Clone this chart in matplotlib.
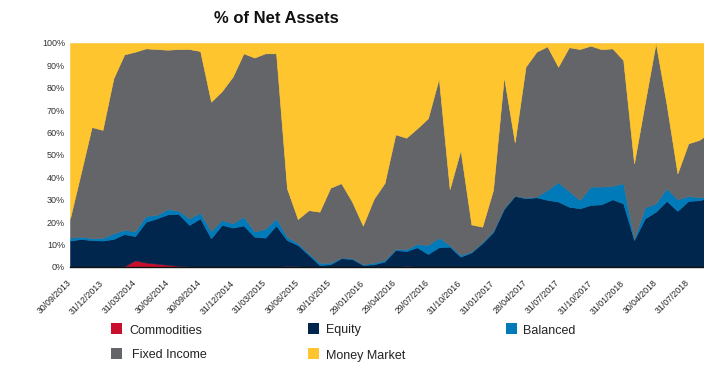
import matplotlib
matplotlib.use("Agg")
import matplotlib.pyplot as plt
from matplotlib.patches import Rectangle
import matplotlib.transforms as mtransforms
import numpy as np

plt.rcParams['font.family'] = ['Liberation Sans', 'DejaVu Sans']

dates = [
    "30/09/2013", "31/10/2013", "29/11/2013", "31/12/2013", "31/01/2014", "28/02/2014",
    "31/03/2014", "30/04/2014", "30/05/2014", "30/06/2014", "31/07/2014", "29/08/2014",
    "30/09/2014", "31/10/2014", "28/11/2014", "31/12/2014", "30/01/2015", "27/02/2015",
    "31/03/2015", "30/04/2015", "29/05/2015", "30/06/2015", "31/08/2015", "30/09/2015",
    "30/10/2015", "30/11/2015", "31/12/2015", "29/01/2016", "29/02/2016", "31/03/2016",
    "29/04/2016", "31/05/2016", "30/06/2016", "29/07/2016", "31/08/2016", "30/09/2016",
    "31/10/2016", "30/11/2016", "30/12/2016", "31/01/2017", "28/02/2017", "31/03/2017",
    "28/04/2017", "31/05/2017", "30/06/2017", "31/07/2017", "31/08/2017", "29/09/2017",
    "31/10/2017", "30/11/2017", "29/12/2017", "31/01/2018", "28/02/2018", "29/03/2018",
    "30/04/2018", "31/05/2018", "29/06/2018", "31/07/2018", "31/08/2018", "28/09/2018",
]

commodities = [0.3, 0.1, 0, 0, 0, 0.3, 3.0, 2.0, 1.5, 1.0, 0.5, 0.2, 0, 0, 0, 0, 0, 0, 0, 0,
               0.5, 0.3, 0, 0, 0, 0, 0, 0, 0, 0, 0, 0.5, 0, 0, 0, 0, 0, 0, 0, 0,
               0, 0, 0, 0, 0, 0, 0, 0, 0, 0, 0, 0, 0, 0, 0, 0, 0, 0, 0, 0]

equity = [11.5, 12.4, 12.0, 11.8, 12.5, 14.4, 10.8, 18.2, 20.2, 22.5, 23.2, 18.6, 21.7, 12.8, 18.8,
          17.6, 18.5, 13.5, 13.1, 18.5, 11.5, 9.5, 5.4, 0.9, 1.2, 3.9, 3.6, 0.9, 1.2, 2.4,
          7.6, 6.6, 8.8, 5.8, 8.8, 9.1, 4.6, 6.5, 10.6, 15.5, 25.9, 31.7, 30.7, 31.1, 30.0,
          29.2, 26.9, 26.2, 27.7, 28.0, 30.2, 28.4, 12.0, 21.7, 24.7, 29.5, 25.1, 29.5, 29.8, 31.0]

balanced = [1.3, 1.0, 0.9, 1.1, 2.5, 1.8, 2.2, 2.6, 1.5, 2.4, 1.4, 2.9, 2.6, 3.2, 2.2,
            1.9, 4.0, 2.3, 3.9, 3.2, 1.5, 0.8, 0.7, 1.0, 0.7, 0.3, 0.3, 0.3, 0.7, 0.7,
            0.4, 0.8, 1.5, 4.0, 4.3, 0.7, 0.8, 0.3, 0.4, 0.5, 0.3, 0.1, 0.3, 0.3, 4.4,
            8.6, 7.0, 3.7, 8.2, 7.9, 6.0, 9.0, 0.5, 4.8, 3.7, 5.6, 5.1, 2.2, 1.3, 1.0]

fixed_income = [8.6, 28.5, 49.6, 48.3, 69.2, 78.4, 80.1, 74.8, 74.1, 71.1, 72.2, 75.6, 72.1, 57.8, 57.5,
                65.5, 72.9, 77.7, 78.4, 73.7, 21.6, 10.8, 19.3, 22.8, 33.5, 33.2, 25.3, 17.3, 28.5, 34.4,
                51.2, 49.8, 51.6, 56.6, 71.1, 25.0, 46.8, 12.2, 7.0, 18.4, 58.8, 23.9, 58.4, 64.7, 64.1,
                51.6, 64.2, 67.4, 62.9, 61.3, 61.4, 55.0, 33.8, 46.9, 71.6, 37.5, 11.6, 23.5, 25.6, 28.0]

money_market = [78.3, 58.0, 37.5, 38.8, 15.8, 5.1, 3.9, 2.4, 2.7, 3.0, 2.7, 2.7, 3.6, 26.2, 21.5,
                15.0, 4.6, 6.5, 4.6, 4.6, 64.9, 78.6, 74.6, 75.3, 64.6, 62.6, 70.8, 81.5, 69.6, 62.5,
                40.8, 42.3, 38.1, 33.6, 15.8, 65.2, 47.8, 81.0, 82.0, 65.6, 15.0, 44.3, 10.6, 3.9, 1.5,
                10.6, 1.9, 2.7, 1.2, 2.8, 2.4, 7.6, 53.7, 26.6, 0.0, 27.4, 58.2, 44.8, 43.3, 40.0]

series_names = ["Commodities", "Equity", "Balanced", "Fixed Income", "Money Market"]
colors = ["#C8102E", "#00264D", "#007AB8", "#636569", "#FEC52E"]

W, H = 704, 365
fig = plt.figure(figsize=(W / 100, H / 100), dpi=100)
ax = fig.add_axes([70 / W, (H - 267) / H, (W - 70) / W, 224 / H])

x = np.arange(len(dates))
polys = ax.stackplot(x, commodities, equity, balanced, fixed_income, money_market,
                     colors=colors, linewidth=0.4)
for p, c in zip(polys, colors):
    p.set_edgecolor(c)

ax.set_xlim(0, 58.45)
ax.set_ylim(0, 100)
for s in ["top", "right", "left"]:
    ax.spines[s].set_visible(False)
ax.spines["bottom"].set_color("#111111")
ax.spines["bottom"].set_linewidth(1.0)
ax.spines["bottom"].set_zorder(5)

yt = np.arange(0, 101, 10)
ax.set_yticks(yt)
ax.set_yticklabels([f"{v}%" for v in yt], fontsize=6.5, color="#333333")
ax.tick_params(axis="y", length=0, pad=3.5)

tick_idx = list(range(0, len(dates), 3))
ax.set_xticks(tick_idx)
labels = ax.set_xticklabels([dates[i] for i in tick_idx], rotation=45, ha="right",
                            va="center", rotation_mode="anchor", fontsize=6.3, color="#222222")
offset = mtransforms.ScaledTranslation(4 / 100, 0, fig.dpi_scale_trans)
for lab in labels:
    lab.set_transform(lab.get_transform() + offset)
ax.tick_params(axis="x", length=0, pad=10.5)

fig.text(276 / W, 1 - 18.5 / H, "% of Net Assets", ha="center", va="center",
         fontsize=12, fontweight="bold", color="#111111")

legend_pos = [(111, 323, 129), (308, 323, 326), (506, 323, 523),
              (111, 348, 132), (308, 348, 326)]
for (sx, sy, tx), name, c in zip(legend_pos, series_names, colors):
    fig.add_artist(Rectangle((sx / W, 1 - (sy + 11) / H), 11 / W, 11 / H,
                             transform=fig.transFigure, facecolor=c, edgecolor="none"))
    fig.text(tx / W, 1 - (sy + 7.5) / H, name, ha="left", va="center",
             fontsize=9, color="#222222")

fig.savefig("out.png", dpi=100)
